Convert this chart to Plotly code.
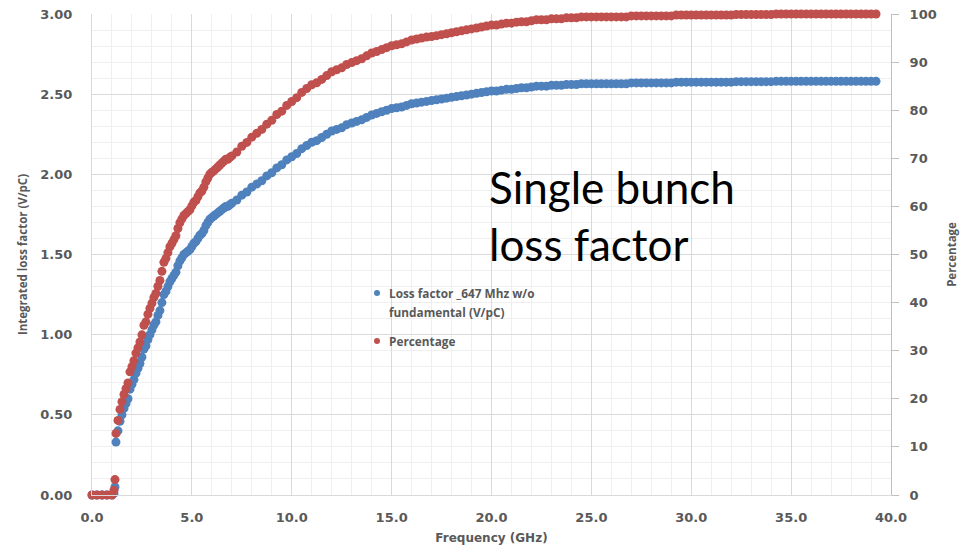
import plotly.graph_objects as go

# Sample frequencies (GHz)
freq_ghz = [
    0.00, 0.25, 0.50, 0.75, 1.00, 1.10, 1.15,
    1.20, 1.30, 1.40, 1.50, 1.60, 1.70, 1.80, 1.90, 2.00, 2.10,
    2.20, 2.30, 2.40, 2.50, 2.60, 2.70, 2.80, 2.90, 3.00, 3.10,
    3.20, 3.30, 3.40, 3.50, 3.60, 3.70, 3.80, 3.90, 4.00,
    4.10, 4.20, 4.30, 4.40, 4.50, 4.60, 4.70, 4.80, 4.90, 5.00,
    5.10, 5.20, 5.30, 5.40, 5.50, 5.60, 5.70, 5.80, 5.90, 6.00,
    6.10, 6.20, 6.30, 6.40, 6.50, 6.60, 6.70, 6.80, 6.90, 7.00,
    7.25, 7.50, 7.75, 8.00, 8.25, 8.50, 8.75, 9.00, 9.25, 9.50, 9.75, 10.00,
    10.25, 10.50, 10.75, 11.00, 11.25, 11.50, 11.75, 12.00, 12.25, 12.50,
    12.75, 13.00, 13.25, 13.50, 13.75, 14.00, 14.25, 14.50, 14.75, 15.00,
    15.25, 15.50, 15.75, 16.00, 16.25, 16.50, 16.75, 17.00, 17.25, 17.50,
    17.75, 18.00, 18.25, 18.50, 18.75, 19.00, 19.25, 19.50, 19.75, 20.00,
    20.25, 20.50, 20.75, 21.00, 21.25, 21.50, 21.75, 22.00, 22.25, 22.50,
    22.75, 23.00, 23.25, 23.50, 23.75, 24.00, 24.25, 24.50, 24.75, 25.00,
    25.25, 25.50, 25.75, 26.00, 26.25, 26.50, 26.75, 27.00, 27.25, 27.50,
    27.75, 28.00, 28.25, 28.50, 28.75, 29.00, 29.25, 29.50, 29.75, 30.00,
    30.25, 30.50, 30.75, 31.00, 31.25, 31.50, 31.75, 32.00, 32.25, 32.50,
    32.75, 33.00, 33.25, 33.50, 33.75, 34.00, 34.25, 34.50, 34.75, 35.00,
    35.25, 35.50, 35.75, 36.00, 36.25, 36.50, 36.75, 37.00, 37.25, 37.50,
    37.75, 38.00, 38.25, 38.50, 38.75, 39.00, 39.25,
]

# Integrated loss factor, 647 MHz fundamental removed (V/pC)
loss_factor = [
    0.00, 0.00, 0.00, 0.00, 0.00, 0.01, 0.05,
    0.33, 0.40, 0.46, 0.50, 0.54, 0.57, 0.60, 0.66, 0.69, 0.72,
    0.76, 0.79, 0.82, 0.86, 0.91, 0.93, 0.97, 1.00, 1.03, 1.06,
    1.08, 1.12, 1.15, 1.20, 1.25, 1.27, 1.30, 1.33, 1.35,
    1.37, 1.39, 1.43, 1.46, 1.48, 1.50, 1.51, 1.52, 1.53, 1.55,
    1.57, 1.58, 1.60, 1.62, 1.63, 1.65, 1.68, 1.70, 1.72, 1.73,
    1.74, 1.75, 1.76, 1.77, 1.78, 1.79, 1.80, 1.80, 1.81, 1.82,
    1.84, 1.87, 1.89, 1.92, 1.94, 1.96, 1.99, 2.01, 2.04, 2.06, 2.09, 2.11,
    2.13, 2.16, 2.18, 2.20, 2.21, 2.23, 2.25, 2.27, 2.28, 2.29,
    2.31, 2.32, 2.33, 2.34, 2.355, 2.37, 2.38, 2.39, 2.40, 2.41,
    2.415, 2.42, 2.43, 2.44, 2.445, 2.45, 2.455, 2.46, 2.465, 2.47,
    2.475, 2.48, 2.485, 2.49, 2.495, 2.50, 2.505, 2.51, 2.515, 2.52,
    2.52, 2.525, 2.53, 2.53, 2.535, 2.54, 2.54, 2.545, 2.55, 2.55,
    2.55, 2.555, 2.555, 2.555, 2.56, 2.56, 2.56, 2.565, 2.565, 2.565,
    2.565, 2.565, 2.565, 2.565, 2.565, 2.565, 2.565, 2.57, 2.57, 2.57,
    2.57, 2.57, 2.57, 2.57, 2.57, 2.57, 2.575, 2.575, 2.575, 2.575,
    2.575, 2.575, 2.575, 2.575, 2.575, 2.575, 2.575, 2.575, 2.578, 2.578,
    2.578, 2.578, 2.578, 2.578, 2.578, 2.578, 2.58, 2.58, 2.58, 2.58,
    2.58, 2.58, 2.58, 2.58, 2.58, 2.58, 2.58, 2.58, 2.58, 2.58,
    2.58, 2.58, 2.58, 2.58, 2.58, 2.58, 2.58,
]

# Cumulative share of the total loss factor (%)
percentage = [
    0.0, 0.0, 0.0, 0.0, 0.0, 1.0, 3.2,
    12.8, 15.5, 17.8, 19.4, 20.9, 22.1, 23.3, 25.6, 26.7, 27.9,
    29.5, 30.6, 31.8, 33.3, 35.3, 36.0, 37.6, 38.8, 39.9, 41.1,
    41.9, 43.4, 44.6, 46.5, 48.4, 49.2, 50.4, 51.6, 52.3,
    53.1, 53.9, 55.4, 56.6, 57.4, 58.1, 58.5, 58.9, 59.3, 60.1,
    60.9, 61.2, 62.0, 62.8, 63.2, 64.0, 65.1, 65.9, 66.7, 67.1,
    67.4, 67.8, 68.2, 68.6, 69.0, 69.4, 69.8, 69.8, 70.2, 70.5,
    71.3, 72.5, 73.3, 74.4, 75.2, 76.0, 77.1, 77.9, 79.1, 79.8, 81.0, 81.8,
    82.6, 83.7, 84.5, 85.3, 85.7, 86.4, 87.2, 88.0, 88.4, 88.8,
    89.5, 89.9, 90.3, 90.7, 91.3, 91.9, 92.2, 92.6, 93.0, 93.4,
    93.6, 93.8, 94.2, 94.6, 94.8, 95.0, 95.2, 95.3, 95.5, 95.7,
    95.9, 96.1, 96.3, 96.5, 96.7, 96.9, 97.1, 97.3, 97.5, 97.7,
    97.7, 97.9, 98.1, 98.1, 98.3, 98.4, 98.4, 98.6, 98.8, 98.8,
    98.8, 99.0, 99.0, 99.0, 99.2, 99.2, 99.2, 99.4, 99.4, 99.4,
    99.4, 99.4, 99.4, 99.4, 99.4, 99.4, 99.4, 99.6, 99.6, 99.6,
    99.6, 99.6, 99.6, 99.6, 99.6, 99.6, 99.8, 99.8, 99.8, 99.8,
    99.8, 99.8, 99.8, 99.8, 99.8, 99.8, 99.8, 99.8, 99.9, 99.9,
    99.9, 99.9, 99.9, 99.9, 99.9, 99.9, 100.0, 100.0, 100.0, 100.0,
    100.0, 100.0, 100.0, 100.0, 100.0, 100.0, 100.0, 100.0, 100.0, 100.0,
    100.0, 100.0, 100.0, 100.0, 100.0, 100.0, 100.0,
]

series_names = ["Loss factor _647 Mhz w/o", "fundamental (V/pC)", "Percentage"]

BLUE = "#4F81BD"
RED = "#C0504D"
LABEL_GREY = "#595959"
MAJOR_GRID = "#d9d9d9"
MINOR_GRID = "#efefef"

# plot-area pixel box, used to place the free-floating legend and label
PX_L, PX_R, PX_T, PX_B = 92, 891, 14, 495


def px_to_paper(px, py):
    return (px - PX_L) / (PX_R - PX_L), (PX_B - py) / (PX_B - PX_T)


tick_font = dict(family="DejaVu Sans", size=13, color=LABEL_GREY, weight="bold")
title_font = dict(family="Open Sans", size=11.5, color=LABEL_GREY, weight="bold")
legend_font = dict(family="Open Sans", size=11.8, color=LABEL_GREY, weight="bold")

fig = go.Figure()
fig.add_trace(go.Scatter(
    x=freq_ghz, y=loss_factor, mode="markers",
    name=" ".join(series_names[:2]),
    marker=dict(color=BLUE, size=9, line=dict(width=0)),
    cliponaxis=False, showlegend=False,
))
fig.add_trace(go.Scatter(
    x=freq_ghz, y=percentage, mode="markers", yaxis="y2",
    name=series_names[2],
    marker=dict(color=RED, size=9, line=dict(width=0)),
    cliponaxis=False, showlegend=False,
))

# Legend drawn as small dots plus text, floating inside the plot area
shapes = []
annotations = []
legend_rows = [
    (BLUE, 293, [(series_names[0], 293), (series_names[1], 312)]),
    (RED, 341, [(series_names[2], 341)]),
]
for color, dot_y, lines in legend_rows:
    xa, ya = px_to_paper(377, dot_y)
    shapes.append(dict(
        type="circle", xref="paper", yref="paper",
        xsizemode="pixel", ysizemode="pixel",
        xanchor=xa, yanchor=ya, x0=-3, x1=3, y0=-3, y1=3,
        fillcolor=color, line=dict(width=0),
    ))
    for text, ty in lines:
        tx, typ = px_to_paper(387, ty)
        annotations.append(dict(
            text=text, xref="paper", yref="paper", x=tx, y=typ,
            xanchor="left", yanchor="middle", showarrow=False,
            font=legend_font,
        ))

lx, ly = px_to_paper(487, 159)
annotations.append(dict(
    text="Single bunch<br>loss factor",
    xref="paper", yref="paper", x=lx, y=ly,
    xanchor="left", yanchor="top", align="left", showarrow=False,
    font=dict(family="Lato", size=44, color="black"),
))

fig.update_layout(
    width=973, height=547,
    margin=dict(l=PX_L, r=973 - PX_R, t=PX_T, b=547 - PX_B),
    paper_bgcolor="white", plot_bgcolor="white",
    showlegend=False,
    xaxis=dict(
        range=[0, 40], dtick=5, tick0=0, tickformat=".1f",
        showgrid=True, gridcolor=MAJOR_GRID, gridwidth=1,
        minor=dict(dtick=1, showgrid=True, gridcolor=MINOR_GRID, gridwidth=1),
        showline=True, linecolor=MAJOR_GRID, linewidth=1,
        zeroline=False, ticks="", automargin=False,
        tickfont=tick_font, ticklabelstandoff=10,
        title=dict(text="Frequency (GHz)",
                   font=dict(family="DejaVu Sans", size=12, color=LABEL_GREY, weight="bold"),
                   standoff=10),
    ),
    yaxis=dict(
        range=[0, 3], dtick=0.5, tick0=0, tickformat=".2f",
        showgrid=True, gridcolor=MAJOR_GRID, gridwidth=1,
        minor=dict(dtick=0.1, showgrid=True, gridcolor=MINOR_GRID, gridwidth=1),
        showline=True, linecolor=MAJOR_GRID, linewidth=1,
        zeroline=False, ticks="", automargin=False,
        tickfont=tick_font, ticklabelstandoff=16,
        title=dict(text="Integrated loss factor (V/pC)", font=title_font, standoff=10),
    ),
    yaxis2=dict(
        overlaying="y", side="right",
        range=[0, 100], dtick=10, tick0=0, tickformat="d",
        showgrid=False, zeroline=False, automargin=False,
        showline=True, linecolor="#bfbfbf", linewidth=1,
        ticks="outside", ticklen=7, tickcolor="#bfbfbf",
        tickfont=tick_font, ticklabelstandoff=8,
        title=dict(text="Percentage", font=title_font, standoff=12),
    ),
    shapes=shapes,
    annotations=annotations,
)

fig.write_html("out.html")
